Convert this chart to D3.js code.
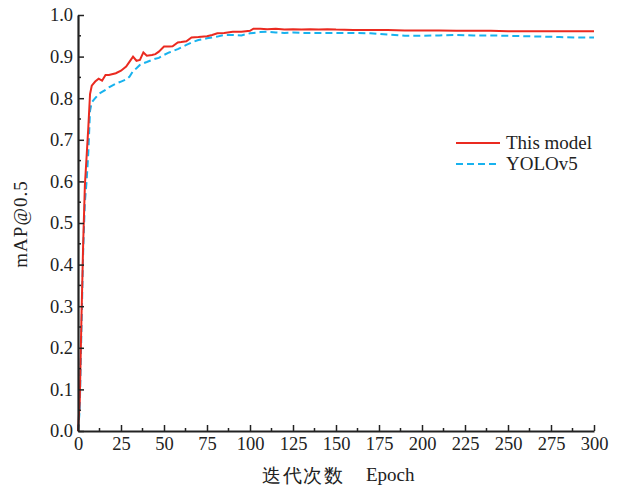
<!DOCTYPE html>
<html>
<head>
  <meta charset="UTF-8">
  <style>
    body { margin: 0; background: #fff; }
    svg text { font-family: "Liberation Serif", "DejaVu Serif", serif; fill: #222; }
  </style>
</head>
<body>

<svg></svg>
<script src="https://d3js.org/d3.v7.min.js"></script>

<script>

let width = 619, height = 489;

let epochs = [0, 1, 2, 3, 4, 5, 6, 7, 8, 10, 12, 14, 16, 18, 22, 25, 28, 30, 32, 34, 36, 38, 40, 43, 45, 47,
  50, 53, 55, 58, 60, 63, 66, 70, 75, 78, 81, 85, 90, 95, 100, 102, 106, 110, 115, 120, 125, 130, 135, 140,
  145, 150, 160, 170, 180, 190, 200, 210, 220, 230, 240, 250, 260, 270, 280, 290, 300];

let thisModel = [0, 0.07, 0.27, 0.45, 0.59, 0.66, 0.73, 0.81, 0.83, 0.84, 0.847, 0.842, 0.856, 0.856, 0.86, 0.866,
  0.876, 0.888, 0.900, 0.890, 0.892, 0.910, 0.902, 0.904, 0.906, 0.912, 0.924, 0.924, 0.925, 0.934, 0.935,
  0.937, 0.946, 0.947, 0.949, 0.952, 0.956, 0.957, 0.960, 0.960, 0.962, 0.967, 0.967, 0.966, 0.967, 0.965,
  0.966, 0.965, 0.966, 0.965, 0.966, 0.965, 0.964, 0.964, 0.964, 0.963, 0.963, 0.963, 0.962, 0.962, 0.962,
  0.961, 0.961, 0.961, 0.961, 0.961, 0.961];

let yolov5 = [0, 0.05, 0.24, 0.43, 0.55, 0.60, 0.67, 0.77, 0.79, 0.80, 0.81, 0.815, 0.82, 0.826, 0.835, 0.84,
  0.845, 0.852, 0.865, 0.872, 0.88, 0.884, 0.887, 0.892, 0.895, 0.897, 0.904, 0.91, 0.913, 0.918, 0.922,
  0.928, 0.934, 0.94, 0.944, 0.946, 0.948, 0.952, 0.952, 0.951, 0.956, 0.957, 0.959, 0.960, 0.958, 0.957,
  0.958, 0.957, 0.957, 0.957, 0.957, 0.957, 0.957, 0.956, 0.953, 0.950, 0.950, 0.951, 0.952, 0.951, 0.951,
  0.950, 0.949, 0.948, 0.947, 0.946, 0.946];

let seriesNames = ["This model", "YOLOv5"];
let xTicks = d3.range(0, 301, 25);
let yTicks = d3.range(0, 1.001, 0.1);

let svg = d3.select("svg")
    .attr("width", width)
    .attr("height", height);

let x = d3.scaleLinear().domain([0, 300]).range([78, 594]);
let y = d3.scaleLinear().domain([0, 1]).range([431, 15]);

// curves
let line = d3.line()
    .x((d, i) => x(epochs[i]))
    .y(d => y(d));

svg.append("path")
    .datum(yolov5)
    .attr("d", line)
    .attr("fill", "none")
    .attr("stroke", "#18b2ee")
    .attr("stroke-width", 2)
    .attr("stroke-dasharray", "7,4");

svg.append("path")
    .datum(thisModel)
    .attr("d", line)
    .attr("fill", "none")
    .attr("stroke", "#ea2a20")
    .attr("stroke-width", 2);

// x axis (ticks pointing inward)
let xAxis = svg.append("g")
    .attr("transform", `translate(0, ${y(0)})`)
    .call(d3.axisBottom(x).tickValues(xTicks).tickSizeInner(-6).tickSizeOuter(0).tickPadding(6));

// minor ticks
svg.append("g")
    .selectAll("line")
    .data(d3.range(12.5, 300, 25))
    .enter().append("line")
    .attr("x1", d => x(d)).attr("x2", d => x(d))
    .attr("y1", y(0)).attr("y2", y(0) - 3)
    .attr("stroke", "#222").attr("stroke-width", 1.5);

// y axis
let yAxis = svg.append("g")
    .attr("transform", `translate(${x(0)}, 0)`)
    .call(d3.axisLeft(y).tickValues(yTicks).tickFormat(d3.format(".1f"))
      .tickSizeInner(-6).tickSizeOuter(0).tickPadding(5));

svg.append("g")
    .selectAll("line")
    .data(d3.range(0.05, 1, 0.1))
    .enter().append("line")
    .attr("x1", x(0)).attr("x2", x(0) + 3)
    .attr("y1", d => y(d)).attr("y2", d => y(d))
    .attr("stroke", "#222").attr("stroke-width", 1.5);

[xAxis, yAxis].forEach(a => {
  a.select(".domain").attr("stroke", "#222").attr("stroke-width", 2.2);
  a.selectAll(".tick line").attr("stroke", "#222").attr("stroke-width", 1.5);
  a.selectAll(".tick text")
    .attr("font-family", "Liberation Serif")
    .attr("font-size", 18.5)
    .attr("fill", "#333");
});

// axis titles
svg.append("text")
    .attr("x", 262)
    .attr("y", 482)
    .attr("font-family", "Noto Sans CJK SC")
    .attr("font-size", 19)
    .attr("letter-spacing", 1.5)
    .attr("fill", "#333")
    .text("迭代次数");

svg.append("text")
    .attr("x", 366)
    .attr("y", 481)
    .attr("font-size", 19)
    .attr("fill", "#333")
    .text("Epoch");

svg.append("text")
    .attr("transform", "translate(27, 224) rotate(-90)")
    .attr("text-anchor", "middle")
    .attr("font-size", 19)
    .attr("letter-spacing", 1)
    .attr("fill", "#333")
    .text("mAP@0.5");

// legend
let legend = svg.append("g")
    .attr("transform", "translate(456, 143)");

let legendStyles = [
  { color: "#ea2a20", dash: null },
  { color: "#18b2ee", dash: "7,4" }
];

seriesNames.forEach((name, i) => {
  let g = legend.append("g").attr("transform", `translate(0, ${i * 21})`);
  g.append("line")
    .attr("x1", 0).attr("x2", 44)
    .attr("stroke", legendStyles[i].color)
    .attr("stroke-width", 2)
    .attr("stroke-dasharray", legendStyles[i].dash);
  g.append("text")
    .attr("x", 50)
    .attr("y", 6)
    .attr("font-size", 19)
    .attr("fill", "#333")
    .text(name);
});

</script>

</body>
</html>
